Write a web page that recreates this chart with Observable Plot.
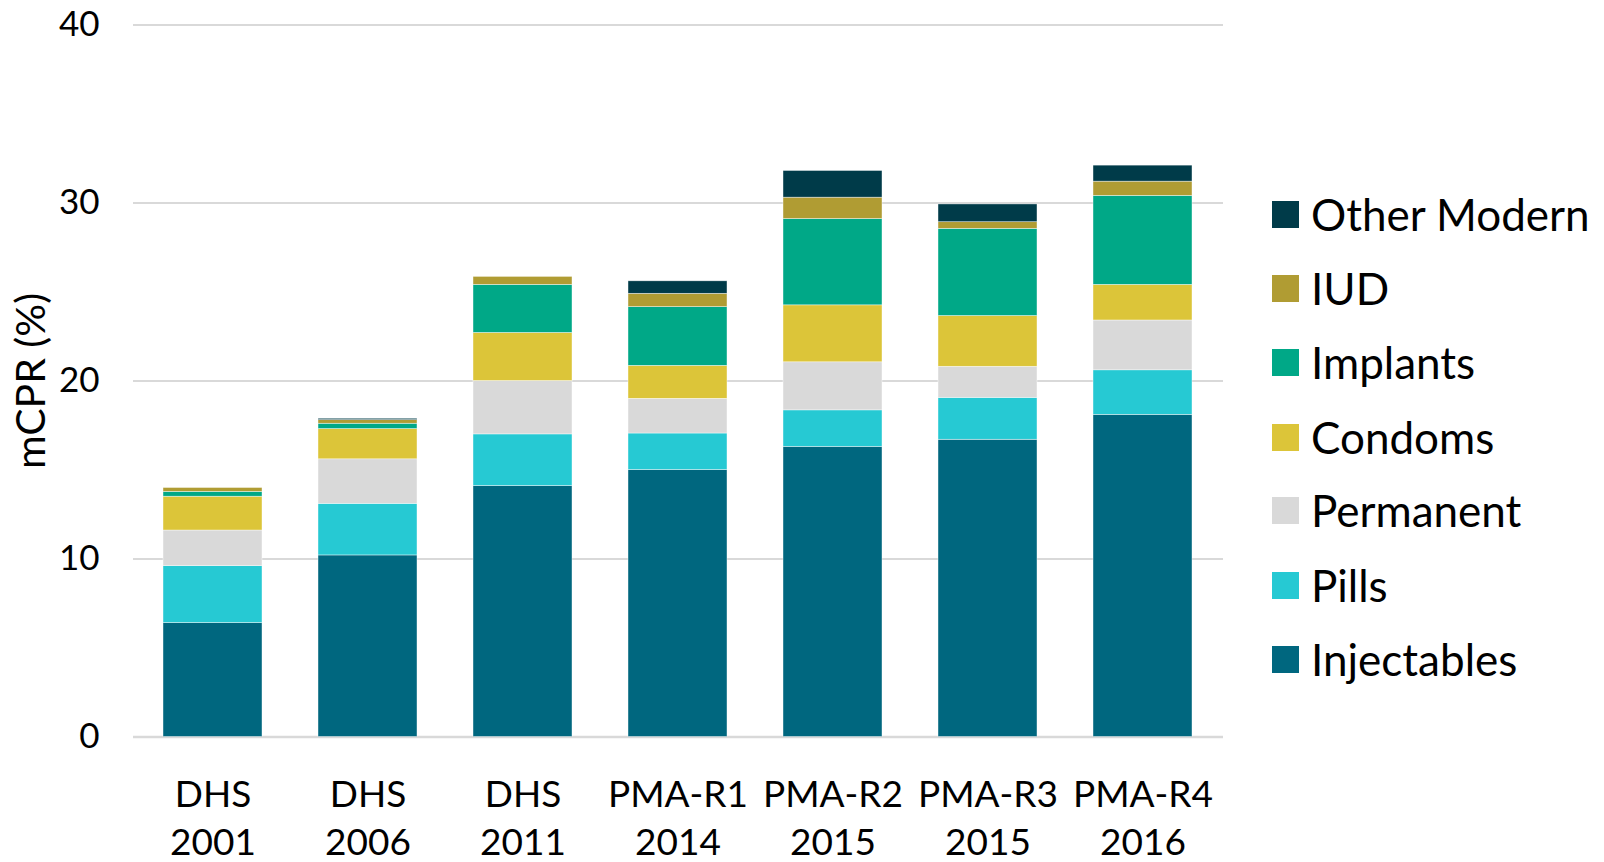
<!DOCTYPE html>
<html><head><meta charset="utf-8">
<script src="https://cdn.jsdelivr.net/npm/d3@7"></script>
<script src="https://cdn.jsdelivr.net/npm/@observablehq/plot@0.6"></script>
<style>
html,body{margin:0;padding:0;background:#fff;}
#wrap{position:relative;width:1604px;height:862px;font-family:Lato,"Open Sans",sans-serif;}
#legend{position:absolute;left:1272px;top:0;}
.item{position:absolute;left:0;display:flex;align-items:center;white-space:nowrap;font-size:44px;color:#000;}
.sw{width:27px;height:27px;margin-right:12px;flex:none;}
</style></head><body>
<div id="wrap"><div id="legend"></div></div>
<script>
const categories = ["DHS\n2001","DHS\n2006","DHS\n2011","PMA-R1\n2014","PMA-R2\n2015","PMA-R3\n2015","PMA-R4\n2016"];
const methods = ["Injectables","Pills","Permanent","Condoms","Implants","IUD","Other Modern"];
const injectables = [6.4, 10.2, 14.1, 15.0, 16.3, 16.7, 18.1];
const pills       = [3.2, 2.9, 2.9, 2.05, 2.05, 2.35, 2.5];
const permanent   = [2.0, 2.5, 3.0, 1.95, 2.7, 1.75, 2.8];
const condoms     = [1.9, 1.7, 2.7, 1.85, 3.2, 2.85, 2.0];
const implants    = [0.27, 0.3, 2.7, 3.3, 4.85, 4.9, 5.0];
const iud         = [0.22, 0.2, 0.45, 0.75, 1.2, 0.37, 0.8];
const otherModern = [0.0, 0.08, 0.0, 0.7, 1.5, 1.0, 0.9];
const colors = ["#00677f","#26c9d3","#d9d9d9","#dcc539","#00a887","#b09c33","#003b49"];
const yTicks = [0, 10, 20, 30, 40];

const seriesValues = [injectables, pills, permanent, condoms, implants, iud, otherModern];
const rows = [];
categories.forEach((c, i) => {
  methods.forEach((m, j) => rows.push({category: c, method: m, value: seriesValues[j][i]}));
});

const chart = Plot.plot({
  width: 1604,
  height: 862,
  marginLeft: 133,
  marginRight: 381,
  marginTop: 24.5,
  marginBottom: 125.5,
  style: {fontFamily: "Lato, 'Open Sans', sans-serif", color: "#000", background: "#fff"},
  x: {domain: categories, paddingInner: 0.36, paddingOuter: 0.18, label: null},
  y: {domain: [0, 40], label: null},
  color: {domain: methods, range: colors},
  marks: [
    Plot.gridY(yTicks.slice(1), {stroke: "#d9d9d9", strokeOpacity: 1, strokeWidth: 2}),
    Plot.ruleY([0], {stroke: "#d9d9d9", strokeWidth: 2.5}),
    Plot.barY(rows, {x: "category", y: "value", fill: "method", stroke: "#ffffff", strokeWidth: 0.6, strokeOpacity: 0.7}),
    Plot.axisY(yTicks, {tickSize: 0, tickPadding: 34, fontSize: 35, label: "mCPR (%)", labelAnchor: "center", labelArrow: "none", labelOffset: 118}),
    Plot.axisX({tickSize: 0, tickPadding: 36, fontSize: 37, lineHeight: 1.3, tickFormat: d => d})
  ]
});
document.getElementById("wrap").prepend(chart);
chart.style.position = "absolute"; chart.style.left = "0"; chart.style.top = "0";
chart.querySelectorAll("g[aria-label='y-axis label']").forEach(e => e.setAttribute("font-size", 41));

const legend = document.getElementById("legend");
const legendY = [214, 288, 362, 437, 510, 585, 659];
methods.slice().reverse().forEach((m, k) => {
  const idx = methods.indexOf(m);
  const it = document.createElement("div");
  it.className = "item";
  it.style.top = (legendY[k] - 30) + "px";
  it.style.height = "60px";
  it.innerHTML = `<span class="sw" style="background:${colors[idx]}"></span><span>${m}</span>`;
  legend.appendChild(it);
});
</script>
</body></html>
